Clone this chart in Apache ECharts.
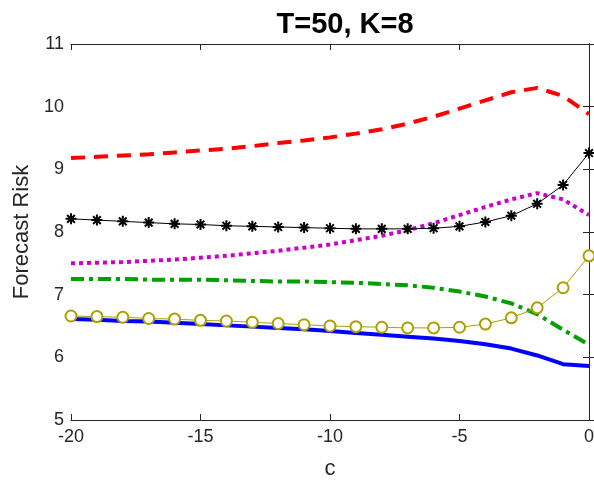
<!DOCTYPE html>
<html>
<head>
<meta charset="utf-8">
<script src="https://cdn.jsdelivr.net/npm/echarts@6/dist/echarts.min.js"></script>
<style>
  html, body { margin: 0; padding: 0; background: #fff; }
  #chart { width: 594px; height: 482px; }
</style>
</head>
<body>
<div id="chart"></div>
<script>
// c values, one per integer step
const cValues = [-20, -19, -18, -17, -16, -15, -14, -13, -12, -11, -10, -9, -8, -7, -6, -5, -4, -3, -2, -1, 0];

// series
const redDashed = [9.18, 9.20, 9.22, 9.24, 9.27, 9.30, 9.33, 9.37, 9.42, 9.46, 9.51, 9.57, 9.64, 9.73, 9.84, 9.97, 10.10, 10.23, 10.30, 10.17, 9.88];
const blackStar = [8.21, 8.19, 8.17, 8.15, 8.13, 8.12, 8.10, 8.09, 8.08, 8.07, 8.06, 8.05, 8.05, 8.05, 8.06, 8.09, 8.16, 8.26, 8.45, 8.75, 9.26];
const magentaDotted = [7.50, 7.51, 7.52, 7.54, 7.56, 7.59, 7.62, 7.66, 7.70, 7.75, 7.80, 7.87, 7.94, 8.03, 8.14, 8.27, 8.40, 8.52, 8.62, 8.52, 8.27];
const greenDashDot = [7.25, 7.25, 7.25, 7.24, 7.24, 7.24, 7.23, 7.22, 7.21, 7.21, 7.20, 7.19, 7.17, 7.15, 7.11, 7.05, 6.97, 6.86, 6.69, 6.44, 6.20];
const oliveCircle = [6.66, 6.65, 6.64, 6.62, 6.61, 6.59, 6.58, 6.56, 6.54, 6.52, 6.50, 6.49, 6.48, 6.47, 6.47, 6.48, 6.53, 6.63, 6.79, 7.11, 7.62];
const blueSolid = [6.61, 6.60, 6.58, 6.57, 6.55, 6.53, 6.51, 6.49, 6.47, 6.45, 6.42, 6.39, 6.36, 6.33, 6.30, 6.26, 6.21, 6.14, 6.03, 5.89, 5.86];

const xTicks = [-20, -15, -10, -5, 0];
const yTicks = [5, 6, 7, 8, 9, 10, 11];

const pair = arr => cValues.map((c, i) => [c, arr[i]]);
const axisColor = "#262626";
const font = "Liberation Sans, Arial, sans-serif";

const chart = echarts.init(document.getElementById("chart"));

const baseX = {
  type: "value",
  min: xTicks[0],
  max: xTicks[xTicks.length - 1],
  interval: 5,
  splitLine: { show: false },
  axisLine: { show: true, lineStyle: { color: axisColor, width: 1 } },
  axisTick: { show: true, inside: true, length: 6, lineStyle: { color: axisColor } }
};
const baseY = {
  type: "value",
  min: yTicks[0],
  max: yTicks[yTicks.length - 1],
  interval: 1,
  splitLine: { show: false },
  axisLine: { show: true, lineStyle: { color: axisColor, width: 1 } },
  axisTick: { show: true, inside: true, length: 6, lineStyle: { color: axisColor } }
};

const option = {
  animation: false,
  backgroundColor: "#fff",
  title: {
    text: "T=50, K=8",
    left: 340,
    top: 5,
    textAlign: "center",
    textStyle: { fontFamily: font, fontSize: 29, fontWeight: "bold", color: "#000" }
  },
  grid: { left: 71, right: 5, top: 44, bottom: 62, outerBoundsMode: "none" },
  xAxis: [
    Object.assign({}, baseX, {
      position: "bottom",
      name: "c",
      nameLocation: "middle",
      nameGap: 38,
      nameTextStyle: { fontFamily: font, fontSize: 22, color: axisColor },
      axisLabel: { fontFamily: font, fontSize: 18, color: axisColor, margin: 8 }
    }),
    Object.assign({}, baseX, { position: "top", axisLabel: { show: false } })
  ],
  yAxis: [
    Object.assign({}, baseY, {
      position: "left",
      name: "Forecast Risk",
      nameLocation: "middle",
      nameGap: 38,
      nameTextStyle: { fontFamily: font, fontSize: 22, color: axisColor },
      axisLabel: { fontFamily: font, fontSize: 18, color: axisColor, margin: 7 }
    }),
    Object.assign({}, baseY, { position: "right", axisLabel: { show: false } })
  ],
  series: [
    {
      type: "line",
      data: pair(blueSolid),
      showSymbol: false,
      lineStyle: { color: "#0000ff", width: 4 }
    },
    {
      type: "line",
      data: pair(greenDashDot),
      showSymbol: false,
      lineStyle: { color: "#00a000", width: 4, type: [13, 5, 4, 5] }
    },
    {
      type: "line",
      data: pair(magentaDotted),
      showSymbol: false,
      lineStyle: { color: "#cc00cc", width: 4, type: [4, 4] }
    },
    {
      type: "line",
      data: pair(redDashed),
      showSymbol: false,
      lineStyle: { color: "#ff0000", width: 4, type: [14, 9] }
    },
    {
      type: "line",
      data: pair(oliveCircle),
      symbol: "emptyCircle",
      symbolSize: 11,
      lineStyle: { color: "#aaa000", width: 1 },
      itemStyle: { color: "#aaa000", borderColor: "#aaa000", borderWidth: 1.5 }
    },
    {
      type: "line",
      data: pair(blackStar),
      symbol: "path://M5,0L5,10M0,5L10,5M1.5,1.5L8.5,8.5M1.5,8.5L8.5,1.5",
      symbolSize: 11,
      lineStyle: { color: "#000", width: 1 },
      itemStyle: { color: "#000", borderColor: "#000", borderWidth: 2 }
    }
  ]
};

chart.setOption(option);
</script>
</body>
</html>
